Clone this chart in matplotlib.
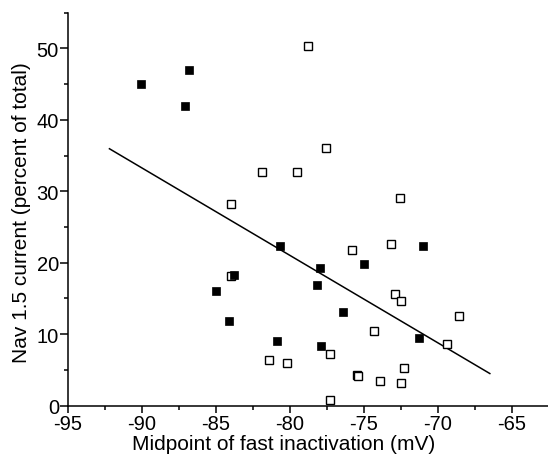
import matplotlib
matplotlib.use("Agg")
import matplotlib.pyplot as plt
from matplotlib.ticker import MultipleLocator

plt.rcParams['font.family'] = ['Liberation Sans', 'DejaVu Sans']
plt.rcParams['axes.unicode_minus'] = False

# filled squares
filled_x = [-90.1, -86.8, -87.1, -80.7, -83.8, -85.0, -84.1, -80.9, -71.0,
            -78.0, -75.0, -78.2, -76.4, -71.3, -77.9]
filled_y = [45.0, 47.0, 41.9, 22.3, 18.3, 16.1, 11.8, 9.1, 22.3,
            19.2, 19.8, 16.9, 13.1, 9.5, 8.3]

# open squares
open_x = [-78.8, -81.9, -79.5, -84.0, -77.6, -72.6, -84.0, -81.4, -80.2,
          -75.8, -73.2, -72.9, -72.5, -68.6, -74.3, -69.4, -77.3, -72.3,
          -75.5, -75.4, -73.9, -72.5, -77.3]
open_y = [50.3, 32.7, 32.7, 28.2, 36.0, 29.0, 18.2, 6.4, 6.0,
          21.8, 22.6, 15.6, 14.6, 12.6, 10.5, 8.7, 7.2, 5.3,
          4.3, 4.1, 3.5, 3.2, 0.8]

# regression line end points
fit_x = [-92.2, -66.5]
fit_y = [35.95, 4.5]

fig = plt.figure(figsize=(5.48, 4.64), dpi=100)
ax = fig.add_axes([0.1241, 0.1235, 0.8759, 0.8472])

ax.plot(fit_x, fit_y, color='black', lw=1.1)
ax.plot(open_x, open_y, 's', ms=6, mfc='white', mec='black', mew=1.0, ls='none')
ax.plot(filled_x, filled_y, 's', ms=6.2, mfc='black', mec='black', mew=0.5, ls='none')

ax.set_xlim(-95, -62.57)
ax.set_ylim(0, 55)
ax.xaxis.set_major_locator(MultipleLocator(5))
ax.xaxis.set_minor_locator(MultipleLocator(2.5))
ax.yaxis.set_major_locator(MultipleLocator(10))
ax.yaxis.set_minor_locator(MultipleLocator(5))

ax.spines['top'].set_visible(False)
ax.spines['right'].set_visible(False)
for s in ['left', 'bottom']:
    ax.spines[s].set_linewidth(1.1)
ax.tick_params(which='major', length=4.8, width=1.1, labelsize=14.5, pad=1.5)
ax.tick_params(which='minor', length=2.6, width=1.1)
ax.tick_params(axis='y', which='major', length=5.5, pad=1)

ax.set_xlabel("Midpoint of fast inactivation (mV)", fontsize=15)
ax.set_ylabel("Nav 1.5 current (percent of total)", fontsize=15)
ax.xaxis.set_label_coords(0.449, -0.072)
ax.yaxis.set_label_coords(-0.077, 0.493)

fig.savefig("out.png", dpi=100)
